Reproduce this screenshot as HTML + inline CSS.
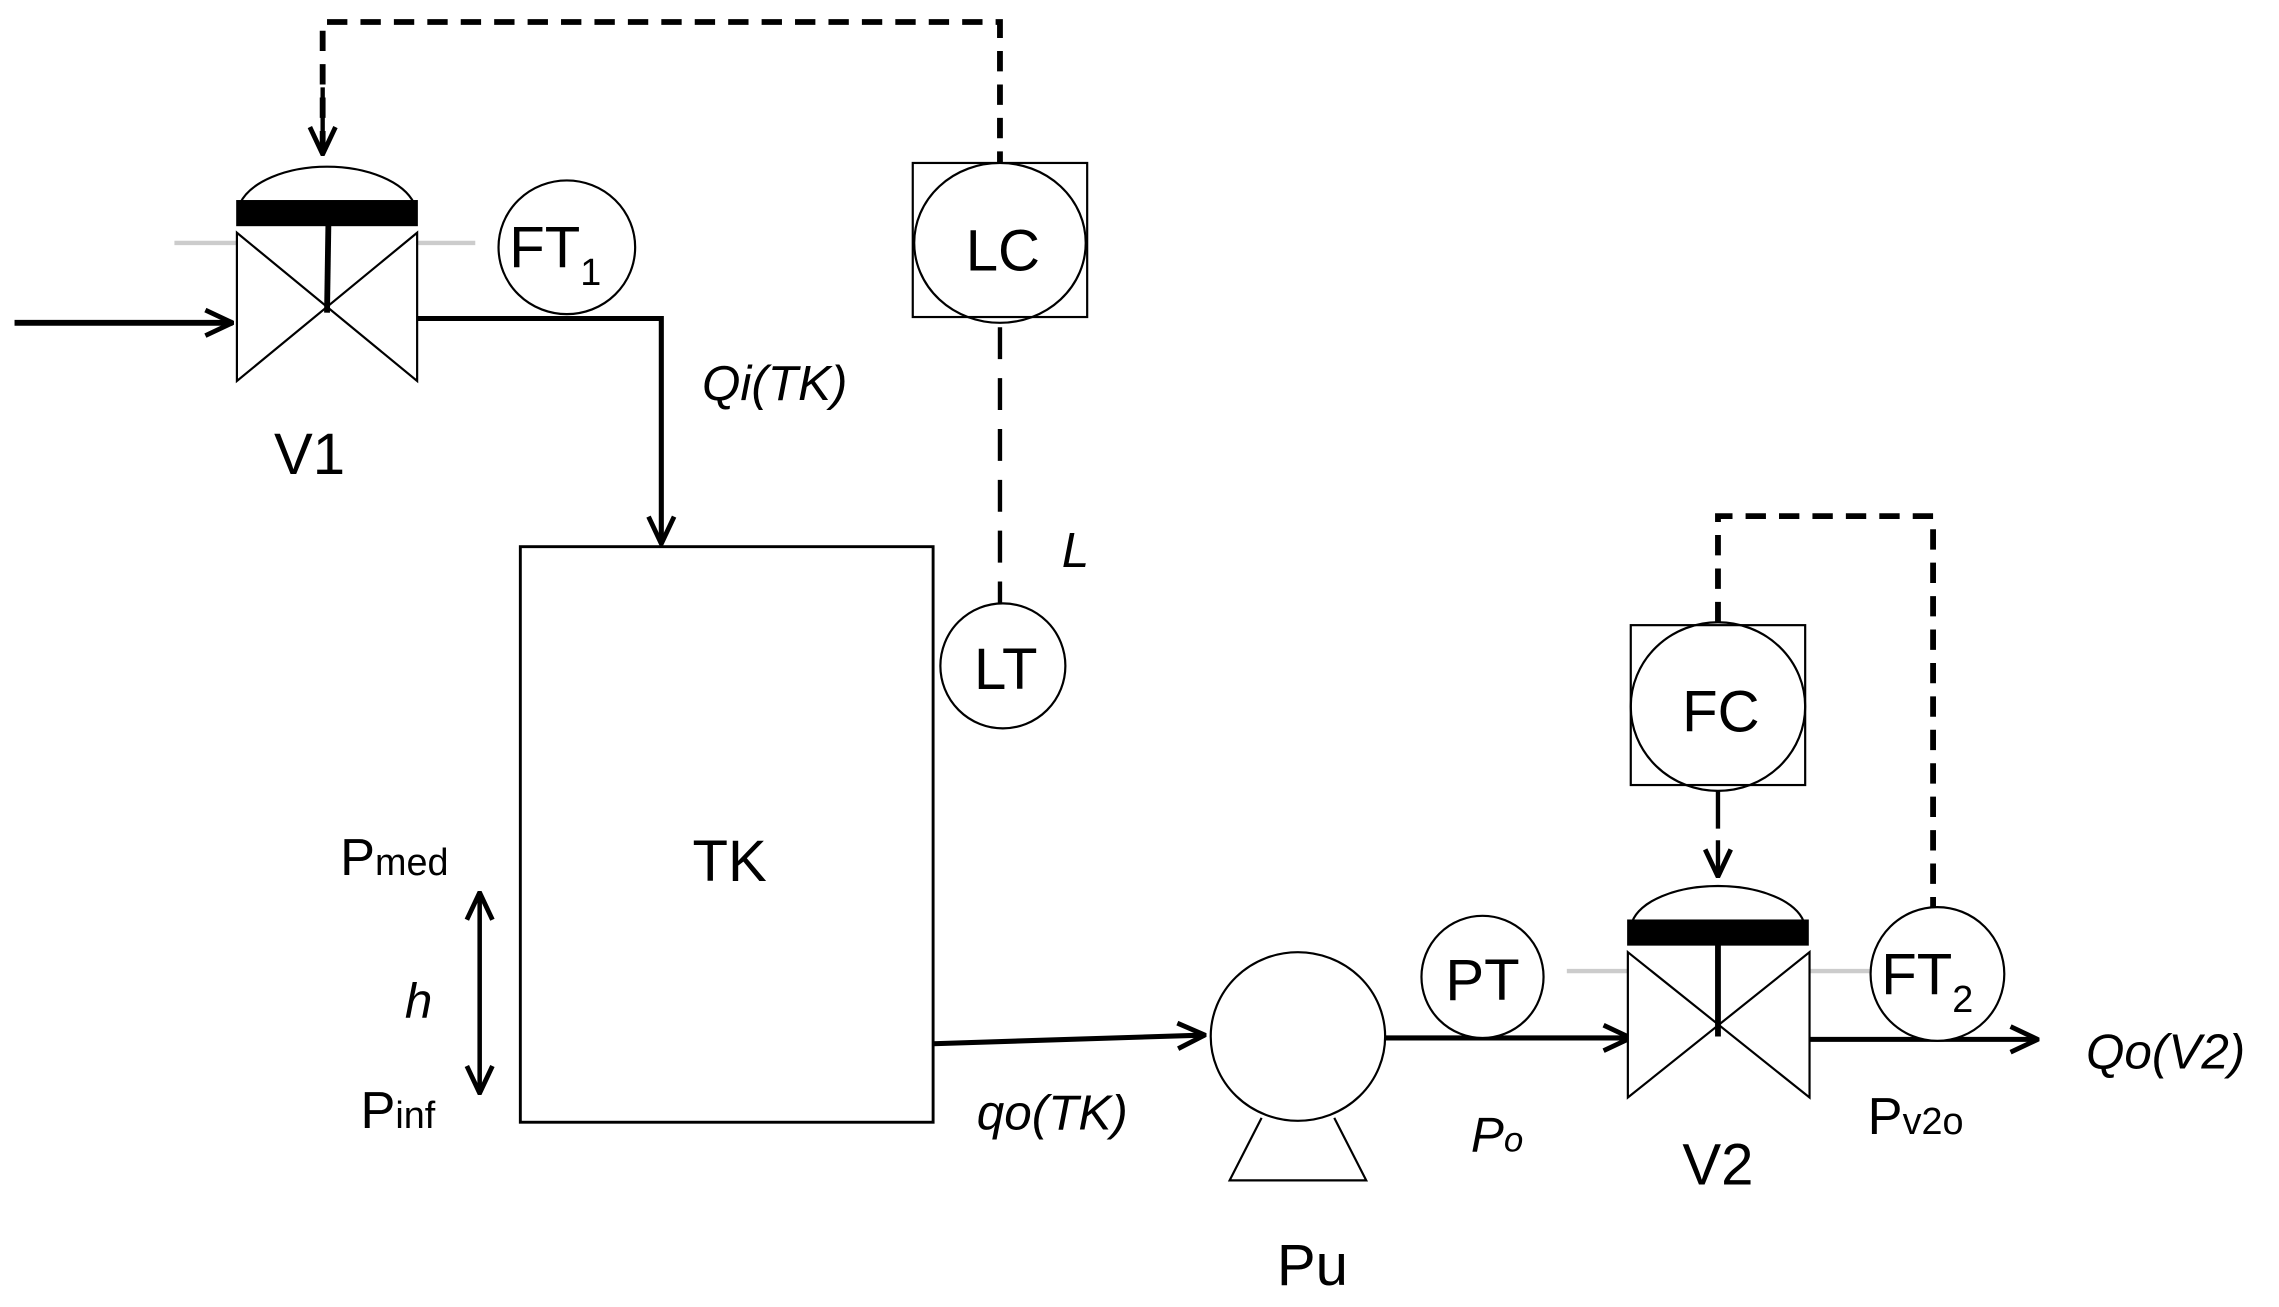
<!DOCTYPE html>
<html><head><meta charset="utf-8"><style>html,body{margin:0;padding:0;background:#fff}svg{display:block}</style></head>
<body>
<svg width="2279" height="1307" viewBox="0 0 1568 899" xmlns="http://www.w3.org/2000/svg" font-family="Liberation Sans, sans-serif">
<defs>
<marker id="ah" viewBox="0 0 10 10" refX="9" refY="5" markerWidth="8" markerHeight="8" orient="auto" markerUnits="userSpaceOnUse">
<path d="M0,0 L10,5 L0,10" fill="none" stroke="#000" stroke-width="2.5"/></marker>
<marker id="ah2" viewBox="0 0 20 20" refX="19" refY="10" markerWidth="22" markerHeight="22" orient="auto" markerUnits="userSpaceOnUse">
<path d="M2,2 L19,10 L2,18" fill="none" stroke="#000" stroke-width="3"/></marker>
</defs>
<g fill="none" stroke="#000">
<!-- top dashed loop -->
<path d="M222,104 V15 H688 V112" stroke-width="4" stroke-dasharray="14,9" marker-end=""/>
<path d="M222,60 V106" stroke-width="3" marker-end="url(#ah2)"/>
<!-- V1 -->
<path d="M120,167 H163 M287,167 H327" stroke="#ccc" stroke-width="3"/>
<path d="M163,160 L287,262 L287,160 L163,262 Z" stroke-width="1.5" fill="#fff"/>
<path d="M165,140 A62,34 0 0 1 285,140" stroke-width="1.5"/>
<rect x="163" y="138" width="124" height="17" fill="#000"/>
<path d="M226,150 L225,215" stroke-width="4"/>
<path d="M10,222 H160" stroke-width="4" marker-end="url(#ah2)"/>
<path d="M287,219 H455 V374" stroke-width="3.5" marker-end="url(#ah2)"/>
<ellipse cx="390" cy="170" rx="47" ry="46" stroke-width="1.5" fill="#fff"/>
<!-- LC -->
<rect x="628" y="112" width="120" height="106" stroke-width="1.5"/>
<ellipse cx="688" cy="167" rx="59" ry="55" stroke-width="1.5"/>
<path d="M688,225 V415" stroke-width="3" stroke-dasharray="22,13"/>
<circle cx="690" cy="458" r="43" stroke-width="1.5" fill="#fff"/>
<!-- tank -->
<rect x="358" y="376" width="284" height="396" stroke-width="2"/>
<path d="M330,614 V752" stroke-width="3" marker-end="url(#ah2)" marker-start=""/>
<path d="M330,752 V614" stroke-width="3" marker-end="url(#ah2)"/>
<path d="M642,718 L829,712" stroke-width="3.5" marker-end="url(#ah2)"/>
<!-- pump -->
<ellipse cx="893" cy="713" rx="60" ry="58" stroke-width="1.5"/>
<path d="M868,769 L846,812 H940 L918,769" stroke-width="1.5"/>
<path d="M953,714 H1122" stroke-width="3.5" marker-end="url(#ah2)"/>
<circle cx="1020" cy="672" r="42" stroke-width="1.5" fill="#fff"/>
<!-- V2 -->
<path d="M1078,668 H1120 M1245,668 H1290" stroke="#ccc" stroke-width="3"/>
<path d="M1120,655 L1245,755 L1245,655 L1120,755 Z" stroke-width="1.5" fill="#fff"/>
<path d="M1123,634 A60,30 0 0 1 1241,634" stroke-width="1.5"/>
<rect x="1120" y="633" width="124" height="17" fill="#000"/>
<path d="M1182,645 V713" stroke-width="4"/>
<!-- FC -->
<rect x="1122" y="430" width="120" height="110" stroke-width="1.5"/>
<ellipse cx="1182" cy="486" rx="60" ry="58" stroke-width="1.5"/>
<path d="M1182,544 V570" stroke-width="3"/>
<path d="M1182,578 V603" stroke-width="3" marker-end="url(#ah2)"/>
<path d="M1182,428 V355 H1330 V624" stroke-width="4" stroke-dasharray="14,9"/>
<path d="M1245,715 H1402" stroke-width="3.5" marker-end="url(#ah2)"/>
<circle cx="1333" cy="670" r="46" stroke-width="1.5" fill="#fff"/>
</g>
<g fill="#000" font-size="40" text-anchor="middle">
<text x="213" y="326">V1</text>
<text x="382" y="184">FT<tspan font-size="26" dy="12">1</tspan></text>
<text x="690" y="186">LC</text>
<text x="692" y="474">LT</text>
<text x="502" y="606">TK</text>
<text x="1184" y="503">FC</text>
<text x="1020" y="688">PT</text>
<text x="1326" y="684">FT<tspan font-size="26" dy="12">2</tspan></text>
<text x="903" y="884">Pu</text>
<text x="1182" y="815">V2</text>
<text x="234" y="602" text-anchor="start" font-size="36">P<tspan font-size="26">med</tspan></text>
<text x="248" y="776" text-anchor="start" font-size="36">P<tspan font-size="26">inf</tspan></text>
<text x="1285" y="780" text-anchor="start" font-size="36">P<tspan font-size="26">v2o</tspan></text>
<g font-style="italic" font-size="34">
<text x="533" y="275">Qi(TK)</text>
<text x="740" y="390">L</text>
<text x="288" y="700">h</text>
<text x="724" y="777">qo(TK)</text>
<text x="1030" y="792">P<tspan font-size="24">o</tspan></text>
<text x="1490" y="735">Qo(V2)</text>
</g>
</g>
</svg>
</body></html>
